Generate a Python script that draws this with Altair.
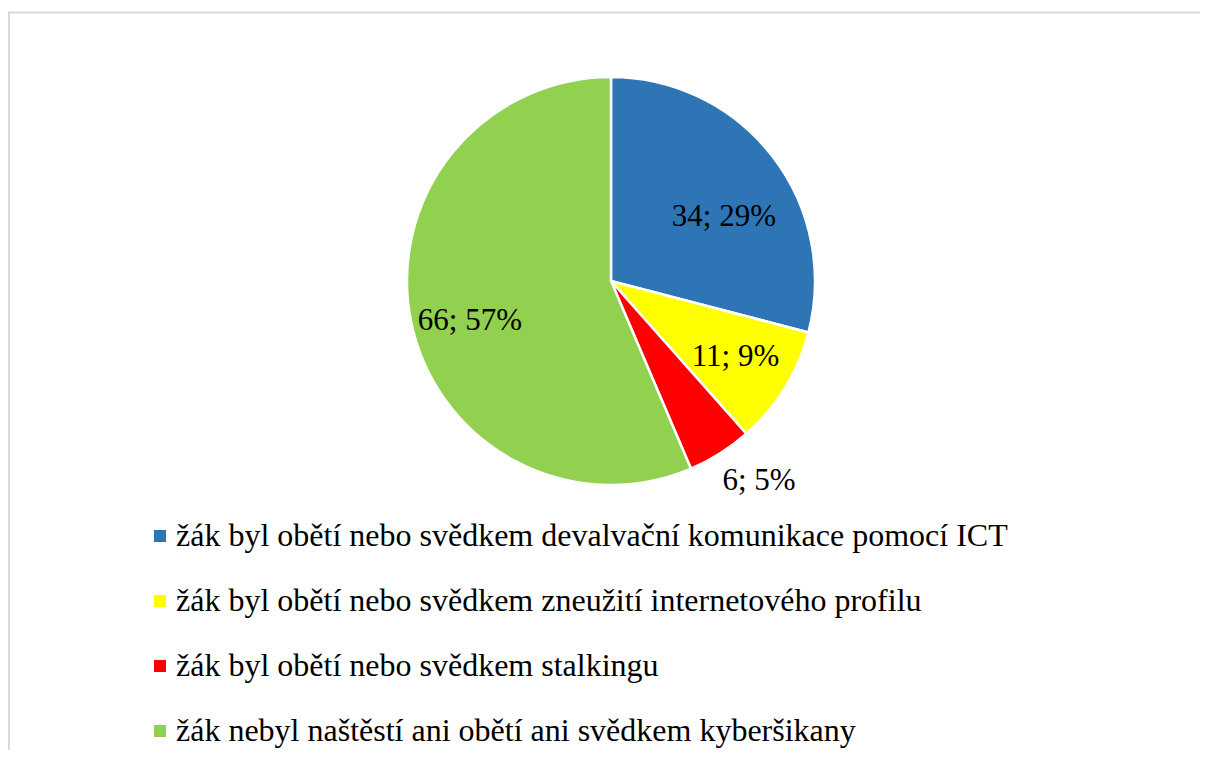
import altair as alt
import pandas as pd

categories = [
    "žák byl obětí nebo svědkem devalvační komunikace pomocí ICT",
    "žák byl obětí nebo svědkem zneužití internetového profilu",
    "žák byl obětí nebo svědkem stalkingu",
    "žák nebyl naštěstí ani obětí ani svědkem kyberšikany",
]
values = [34, 11, 6, 66]
labels = ["34; 29%", "11; 9%", "6; 5%", "66; 57%"]
colors = ["#2E75B6", "#FFFF00", "#FF0000", "#92D050"]

df = pd.DataFrame({
    "cat": categories,
    "value": values,
    "label": labels,
    "order": list(range(len(categories))),
})

FONT = "'Liberation Serif', 'Times New Roman', Times, serif"
PADL = 4
CX, CY, R = 603 - PADL, 273, 204

pie = alt.Chart(df).mark_arc(radius=R, stroke="white", strokeWidth=2.5).encode(
    theta=alt.Theta("value:Q", stack=True),
    order=alt.Order("order:Q"),
    color=alt.Color(
        "cat:N",
        scale=alt.Scale(domain=categories, range=colors),
        sort=categories,
        legend=alt.Legend(
            title=None,
            orient="none",
            legendX=136 - PADL,
            legendY=512,
            direction="vertical",
            symbolType="square",
            symbolSize=144,
            symbolStrokeWidth=0,
            labelFont=FONT,
            labelFontSize=32,
            labelColor="black",
            labelLimit=1200,
            labelOffset=0,
            rowPadding=33,
            padding=0,
        ),
    ),
    x=alt.value(CX),
    y=alt.value(CY),
)

# mid-angle (radians) of every slice, computed before picking one label
lab_base = (
    alt.Chart(df)
    .transform_window(cum="sum(value)", sort=[alt.SortField("order")])
    .transform_joinaggregate(total="sum(value)")
    .transform_calculate(mid="(datum.cum - datum.value / 2) / datum.total * 2 * PI")
)

label_specs = [
    (0, 130, 10, 15),
    (1, 146, 0, 0),
    (2, 249, 15, -10),
    (3, 144, 0, 11),
]
text_layers = []
for idx, rad, dx, dy in label_specs:
    t = lab_base.transform_filter(alt.datum.order == idx).mark_text(
        radius=rad, dx=dx, dy=dy, font=FONT, fontSize=31, color="black",
        align="center", baseline="middle",
    ).encode(
        theta=alt.Theta("mid:Q", scale=None),
        text="label:N",
        x=alt.value(CX),
        y=alt.value(CY),
    )
    text_layers.append(t)

border = alt.Chart(pd.DataFrame({"a": [0]})).mark_rect(
    fill=None, stroke="#D9D9D9", strokeWidth=2
).encode(
    x=alt.value(1 - PADL), x2=alt.value(1240), y=alt.value(4.5), y2=alt.value(790)
)

chart = alt.layer(border, pie, *text_layers).properties(
    width=1192 - PADL, height=742,
    padding={"left": PADL, "top": 0, "right": 0, "bottom": 0},
    autosize="none",
).configure_view(stroke=None).configure_legend(padding=0)

chart.save("out.html", embed_options={"renderer": "svg", "actions": False})
